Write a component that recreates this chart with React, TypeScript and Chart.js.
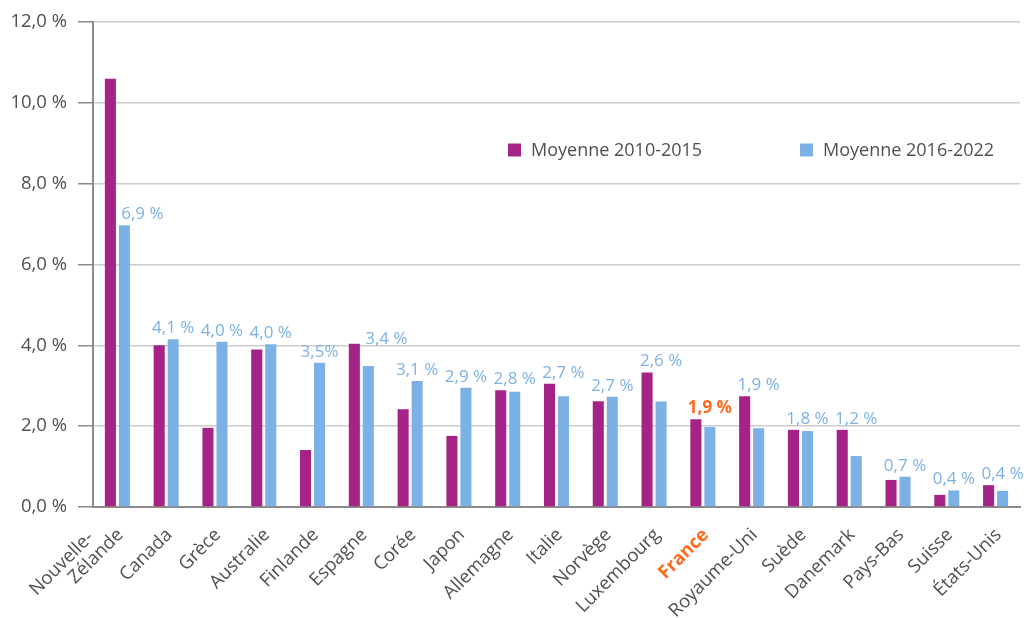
import React, { useEffect, useRef } from "react";
import { Chart, registerables } from "chart.js";

Chart.register(...registerables);

const categories: (string | string[])[] = [
  ["Nouvelle-", "Zélande"], "Canada", "Grèce", "Australie", "Finlande", "Espagne", "Corée", "Japon",
  "Allemagne", "Italie", "Norvège", "Luxembourg", "France", "Royaume-Uni", "Suède", "Danemark",
  "Pays-Bas", "Suisse", "États-Unis",
];
const series2010_2015 = [10.6, 4.0, 1.96, 3.9, 1.41, 4.04, 2.42, 1.76, 2.89, 3.05, 2.62, 3.33, 2.17, 2.74, 1.91, 1.91, 0.67, 0.3, 0.54];
const series2016_2022 = [6.97, 4.15, 4.09, 4.03, 3.57, 3.49, 3.12, 2.95, 2.85, 2.74, 2.73, 2.61, 1.98, 1.95, 1.88, 1.26, 0.75, 0.41, 0.4];
const valueLabels = ["6,9 %", "4,1 %", "4,0 %", "4,0 %", "3,5%", "3,4 %", "3,1 %", "2,9 %", "2,8 %", "2,7 %", "2,7 %", "2,6 %", "1,9 %", "1,9 %", "1,8 %", "1,2 %", "0,7 %", "0,4 %", "0,4 %"];
const seriesNames = ["Moyenne 2010-2015", "Moyenne 2016-2022"];
const highlightIndex = 12;

const PURPLE = "#a52387";
const BLUE = "#7cb1e6";
const ORANGE = "#ff6a1f";
const TEXT = "#505050";
const FONT = "'Open Sans', sans-serif";

const valueLabelPlugin = {
  id: "valueLabels",
  afterDatasetsDraw(chart: any) {
    const ctx = chart.ctx;
    const m0 = chart.getDatasetMeta(0);
    const m1 = chart.getDatasetMeta(1);
    ctx.save();
    ctx.textAlign = "center";
    ctx.textBaseline = "alphabetic";
    valueLabels.forEach((t, i) => {
      const b0 = m0.data[i];
      const b1 = m1.data[i];
      const v0 = series2010_2015[i];
      const v1 = series2016_2022[i];
      let x = b1.x;
      let y = Math.min(b0.y, b1.y) - 6;
      if (v0 - v1 > 2) {
        y = b1.y - 6;
        x = b1.x + 18;
      } else if (v0 > v1 + 0.5 && i === 5) {
        y = b0.y;
        x = b1.x + 18;
      }
      const hl = i === highlightIndex;
      ctx.font = `${hl ? "bold " : ""}17px ${FONT}`;
      ctx.fillStyle = hl ? ORANGE : BLUE;
      ctx.fillText(t, x, y);
    });
    ctx.restore();
  },
};

const categoryLabelPlugin = {
  id: "categoryLabels",
  afterDraw(chart: any) {
    const ctx = chart.ctx;
    const xs = chart.scales.x;
    ctx.save();
    ctx.textAlign = "right";
    ctx.textBaseline = "middle";
    categories.forEach((lab, i) => {
      const px = xs.getPixelForValue(i);
      const hl = i === highlightIndex;
      ctx.font = `${hl ? "bold " : ""}18.5px ${FONT}`;
      ctx.fillStyle = hl ? ORANGE : TEXT;
      ctx.save();
      ctx.translate(px + 3, xs.top + 25);
      ctx.rotate(-Math.PI / 4);
      const lines = Array.isArray(lab) ? lab : [lab];
      const n = lines.length;
      lines.forEach((ln, k) => {
        const back = n - 1 - k;
        ctx.fillText(ln, -back * 23, -back * 19);
      });
      ctx.restore();
    });
    ctx.restore();
  },
};

const legendPlugin = {
  id: "customLegend",
  afterDraw(chart: any) {
    const ctx = chart.ctx;
    const items = [
      { x: 508, color: PURPLE, text: seriesNames[0] },
      { x: 800, color: BLUE, text: seriesNames[1] },
    ];
    const yc = 150;
    ctx.save();
    ctx.font = `18px ${FONT}`;
    ctx.textBaseline = "middle";
    ctx.textAlign = "left";
    items.forEach((it) => {
      ctx.fillStyle = it.color;
      ctx.fillRect(it.x, yc - 6.5, 13, 13);
      ctx.fillStyle = TEXT;
      ctx.fillText(it.text, it.x + 23, yc + 1);
    });
    ctx.restore();
  },
};

export default function App() {
  const ref = useRef<HTMLCanvasElement | null>(null);
  useEffect(() => {
    document.body.style.margin = "0";
    if (!ref.current) return;
    Chart.defaults.font.family = FONT;
    const chart = new Chart(ref.current, {
      type: "bar",
      data: {
        labels: categories.map((c) => (Array.isArray(c) ? c.join(" ") : c)),
        datasets: [
          { label: seriesNames[0], data: series2010_2015, backgroundColor: PURPLE, barPercentage: 0.79, categoryPercentage: 0.574 },
          { label: seriesNames[1], data: series2016_2022, backgroundColor: BLUE, barPercentage: 0.79, categoryPercentage: 0.574 },
        ],
      },
      options: {
        animation: false,
        responsive: false,
        maintainAspectRatio: false,
        layout: { padding: { top: 12, right: 10, left: 0, bottom: 0 } },
        plugins: { legend: { display: false }, tooltip: { enabled: false } },
        scales: {
          x: {
            grid: { display: false },
            border: { display: true, color: "#8a8a8a", width: 2 },
            ticks: { display: false },
            afterFit: (s: any) => { s.height = 111; },
          },
          y: {
            min: 0,
            max: 12,
            ticks: {
              stepSize: 2,
              padding: 11,
              color: TEXT,
              font: { family: FONT, size: 18.5 },
              callback: (v: any) => Number(v).toFixed(1).replace(".", ",") + " %",
            },
            grid: { color: "#cccccc", lineWidth: 1.5, tickLength: 15, tickColor: "#8a8a8a" },
            border: { display: true, color: "#8a8a8a", width: 2 },
            afterFit: (s: any) => { s.width = 93; },
          },
        },
      },
      plugins: [valueLabelPlugin, categoryLabelPlugin, legendPlugin],
    });
    return () => chart.destroy();
  }, []);
  return (
    <div style={{ width: 1030, height: 618, background: "#fff" }}>
      <canvas ref={ref} width={1030} height={618} style={{ display: "block" }} />
    </div>
  );
}
